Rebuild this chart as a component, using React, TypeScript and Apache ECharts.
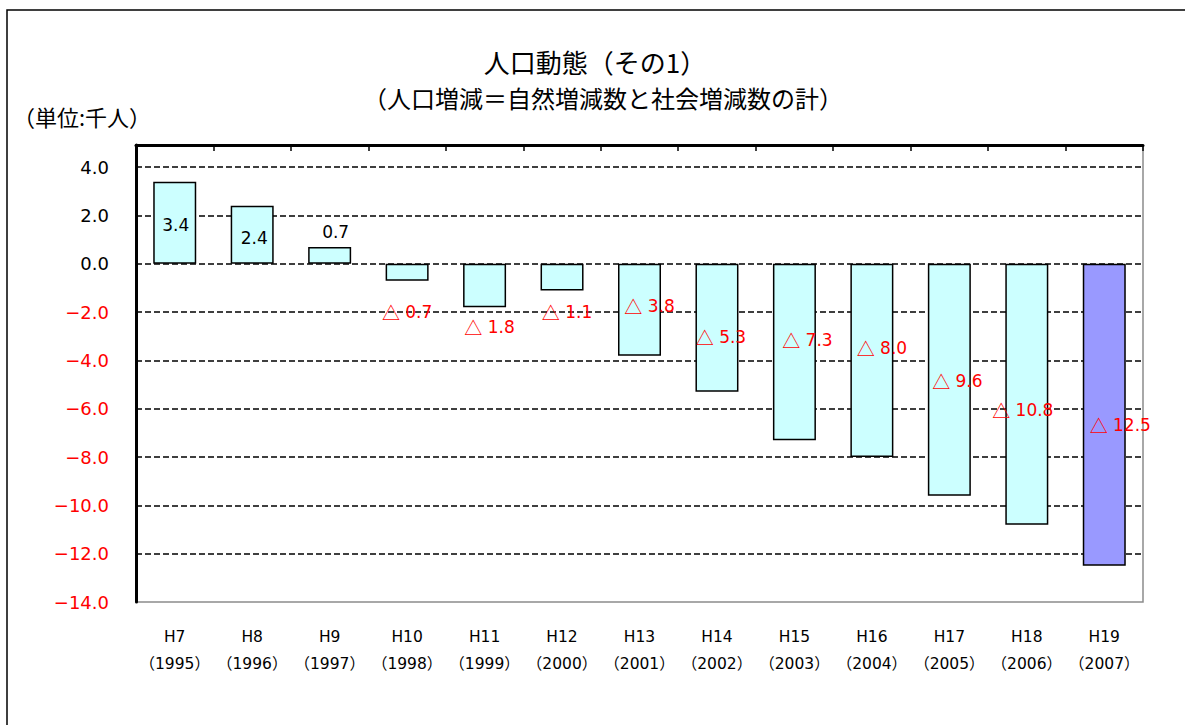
import React, { useEffect, useRef } from "react";
import * as echarts from "echarts";

const eras = ["H7", "H8", "H9", "H10", "H11", "H12", "H13", "H14", "H15", "H16", "H17", "H18", "H19"];
const years = ["1995", "1996", "1997", "1998", "1999", "2000", "2001", "2002", "2003", "2004", "2005", "2006", "2007"];
const values = [3.4, 2.4, 0.7, -0.7, -1.8, -1.1, -3.8, -5.3, -7.3, -8.0, -9.6, -10.8, -12.5];
const highlightIndex = 12;

const titleText = "人口動態（その1）";
const subtitleText = "（人口増減＝自然増減数と社会増減数の計）";
const unitText = "（単位:千人）";

// label offsets (px) relative to bar centre, as placed in the original
const labelOffsets = [
  [1, 2], [2, 3], [6, -23], [0, 40], [5, 41], [5, 35], [10, -4],
  [4, 9], [13, -12], [10, -12], [8, 1], [-4, 16], [16, 10],
];

const categories = eras.map((e, i) => e + "\n（" + years[i] + "）");

export default function App() {
  const ref = useRef<HTMLDivElement>(null);
  useEffect(() => {
    if (!ref.current) return;
    const chart = echarts.init(ref.current, undefined, { renderer: "svg" });
    const numFont = "'DejaVu Sans', 'Noto Sans CJK JP', sans-serif";
    const cjk = "'Noto Sans CJK JP', sans-serif";
    chart.setOption({
      animation: false,
      backgroundColor: "#ffffff",
      grid: {
        left: 136,
        right: 42,
        top: 145,
        bottom: 123,
        show: true,
        borderColor: "#8c8c8c",
        borderWidth: 1.5,
        backgroundColor: "transparent",
      },
      xAxis: [
        {
          type: "category",
          data: categories,
          position: "bottom",
          axisLine: { show: false },
          axisTick: { show: false },
          axisLabel: {
            interval: 0,
            margin: 21,
            fontSize: 15.5,
            lineHeight: 27,
            color: "#000",
            fontFamily: numFont,
          },
        },
        {
          type: "category",
          data: categories,
          axisLine: { show: true, onZero: true, lineStyle: { color: "#000", width: 3 } },
          axisTick: { show: true, inside: true, interval: 0, length: 6, lineStyle: { color: "#000", width: 1.5 } },
          axisLabel: { show: false },
          splitLine: { show: false },
        },
      ],
      yAxis: {
        type: "value",
        min: -14,
        max: 4.92,
        interval: 2,
        axisLine: { show: true, lineStyle: { color: "#000", width: 3 } },
        axisTick: { show: false },
        splitLine: {
          show: true,
          showMinLine: false,
          showMaxLine: false,
          lineStyle: { color: "#000", width: 1.5, type: [6, 3] },
        },
        axisLabel: {
          margin: 27,
          fontSize: 18,
          fontFamily: numFont,
          formatter: (v: number) => {
            if (Math.abs(v - Math.round(v / 2) * 2) > 1e-6) return "";
            return v < 0 ? "−" + Math.abs(v).toFixed(1) : v.toFixed(1);
          },
          color: (v: any) => (Number(v) < 0 ? "#ff0000" : "#000000"),
        },
      },
      series: [
        {
          type: "bar",
          xAxisIndex: 0,
          barWidth: 43,
          data: values.map((v, i) => ({
            value: v,
            itemStyle: i === highlightIndex ? { color: "#9999ff" } : undefined,
            label: {
              offset: labelOffsets[i],
              color: v < 0 ? "#ff0000" : "#000000",
              rich: {
                t: { fontFamily: cjk, fontSize: 18, color: v < 0 ? "#ff0000" : "#000000" },
                n: { fontFamily: numFont, fontSize: 17, color: v < 0 ? "#ff0000" : "#000000" },
              },
            },
          })),
          itemStyle: { color: "#ccffff", borderColor: "#000", borderWidth: 1.5 },
          label: {
            show: true,
            position: "inside",
            fontSize: 17,
            fontFamily: numFont,
            textBorderWidth: 0,
            formatter: (p: any) => {
              const v = Number(p.value);
              return v < 0
                ? "{t|△}{n| " + Math.abs(v).toFixed(1) + "}"
                : "{n|" + v.toFixed(1) + "}";
            },
          },
        },
      ],
      graphic: [
        {
          type: "rect",
          shape: { x: 7, y: 10, width: 1400, height: 1000 },
          style: { fill: "none", stroke: "#000", lineWidth: 1.5 },
          silent: true,
        },
        {
          type: "text",
          x: 595,
          y: 61,
          style: {
            text: titleText,
            fontSize: 26,
            fontFamily: cjk,
            fill: "#000",
            align: "center",
            verticalAlign: "middle",
          },
        },
        {
          type: "text",
          x: 603,
          y: 97,
          style: {
            text: subtitleText,
            fontSize: 24,
            fontFamily: cjk,
            fill: "#000",
            align: "center",
            verticalAlign: "middle",
          },
        },
        {
          type: "text",
          x: 13,
          y: 116,
          style: {
            text: unitText,
            fontSize: 22,
            fontFamily: cjk,
            fill: "#000",
            align: "left",
            verticalAlign: "middle",
          },
        },
      ],
    });
    return () => chart.dispose();
  }, []);
  return (
    <div
      ref={ref}
      style={{ position: "fixed", left: 0, top: 0, width: 1185, height: 725 }}
    />
  );
}
